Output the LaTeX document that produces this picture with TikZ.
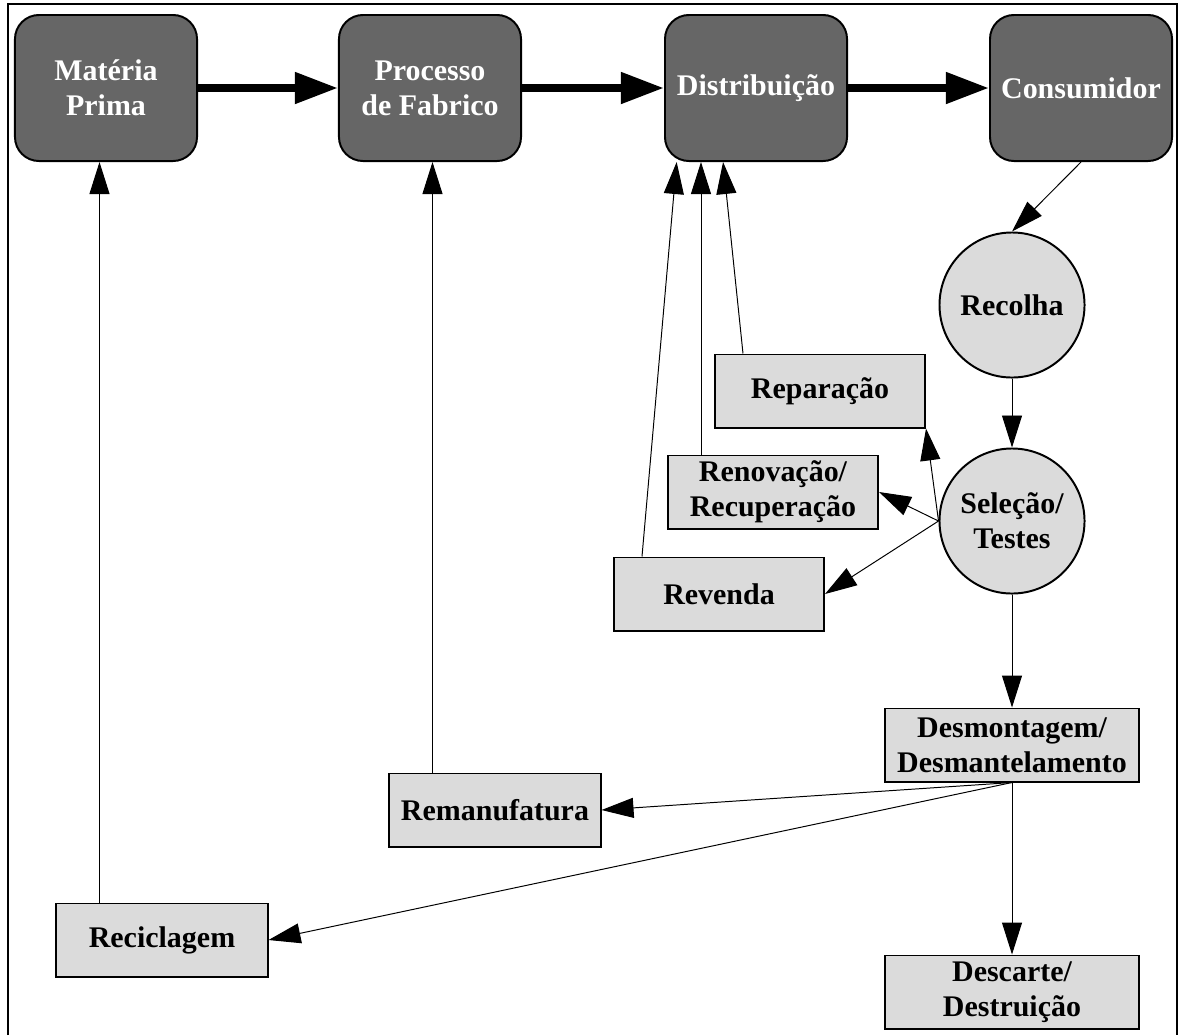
\documentclass[tikz,border=0pt]{standalone}
\usepackage{fontspec}
\setmainfont{Liberation Serif}
\usetikzlibrary{calc,arrows.meta}
\newcommand{\boxfont}{\fontsize{21.3pt}{25pt}\selectfont\bfseries}
\tikzset{
	stage/.style={draw=black, line width=1.4pt, fill=black!60, rounded corners=0.6cm, minimum width=4.55cm, minimum height=3.65cm, align=center, text=white, font=\boxfont},
	opbox/.style={draw=black, line width=1.4pt, fill=black!14, minimum width=5.25cm, minimum height=1.825cm, align=center, font=\boxfont},
	hub/.style={circle, draw=black, line width=1.4pt, fill=black!14, minimum size=3.625cm, align=center, font=\boxfont},
	flow/.style={line width=0.2cm, -{Triangle[length=1.08cm, width=0.75cm]}},
	link/.style={line width=0.7pt, -{Triangle[length=0.8cm, width=0.5cm]}}
}

\begin{document}
\begin{tikzpicture}[x=0.025cm, y=-0.025cm]
			%%%%% FRAME %%%%%
			\useasboundingbox (0, 0) rectangle (1181, 1035);
			\draw[line width=2pt] (8, 1035) -- (8, 4) -- (1177, 4) -- (1177, 1035);
			
			%%%%% CHAIN %%%%%
			\node[stage] (mat) at (106, 88) {Matéria\\Prima};
			\node[stage] (fab) at (430, 88) {Processo\\de Fabrico};
			\node[stage] (dist) at (756, 88) {Distribuição};
			\node[stage] (cons) at (1081, 88) {Consumidor};
			
			\draw[flow] (mat) -- (fab);
			\draw[flow] (fab) -- (dist);
			\draw[flow] (dist) -- (cons);
			
			%%%%% RETURN %%%%%
			\node[hub] (recol) at (1012, 305) {Recolha};
			\node[hub] (selec) at (1012, 521) {Seleção/\\Testes};
			
			\node[opbox] (repar) at (820, 391) {Reparação};
			\node[opbox] (renov) at (773, 492) {Renovação/\\Recuperação};
			\node[opbox] (reven) at (719, 594) {Revenda};
			
			\node[opbox, minimum width=6.35cm] (desmo) at (1012, 745) {Desmontagem/\\Desmantelamento};
			\node[opbox, minimum width=6.35cm] (desca) at (1012, 992) {Descarte/\\Destruição};
			\node[opbox, minimum width=5.275cm] (reman) at (495, 810) {Remanufatura};
			\node[opbox, minimum width=5.275cm] (recic) at (162, 940) {Reciclagem};
			
			\draw[link] (cons.south) -- (recol.north);
			\draw[link] (recol) -- (selec);
			\draw[link] (selec.west) -- (repar.south east);
			\draw[link] (selec.west) -- (renov.east);
			\draw[link] (selec.west) -- (reven.east);
			\draw[link] (selec) -- (desmo);
			\draw[link] (desmo.south) -- (desca.north);
			\draw[link] (desmo.south) -- (reman.east);
			\draw[link] (desmo.south) -- (recic.east);
			
			% back to the chain
			\coordinate (repartop) at ($(repar.north west)+(29, 0)$);
			\coordinate (renovtop) at ($(renov.north west)+(34, 0)$);
			\coordinate (reventop) at ($(reven.north west)+(29, 0)$);
			\coordinate (remantop) at ($(reman.north west)+(44, 0)$);
			\coordinate (recictop) at ($(recic.north west)+(44, 0)$);
			\draw[link] (repartop) -- (dist.246);
			\draw[link] (renovtop) -- (renovtop |- dist.south);
			\draw[link] (reventop) -- (dist.223);
			\draw[link] (remantop) -- (remantop |- fab.south);
			\draw[link] (recictop) -- (recictop |- mat.south);
			%%%%% END %%%%%
\end{tikzpicture}
\end{document}
